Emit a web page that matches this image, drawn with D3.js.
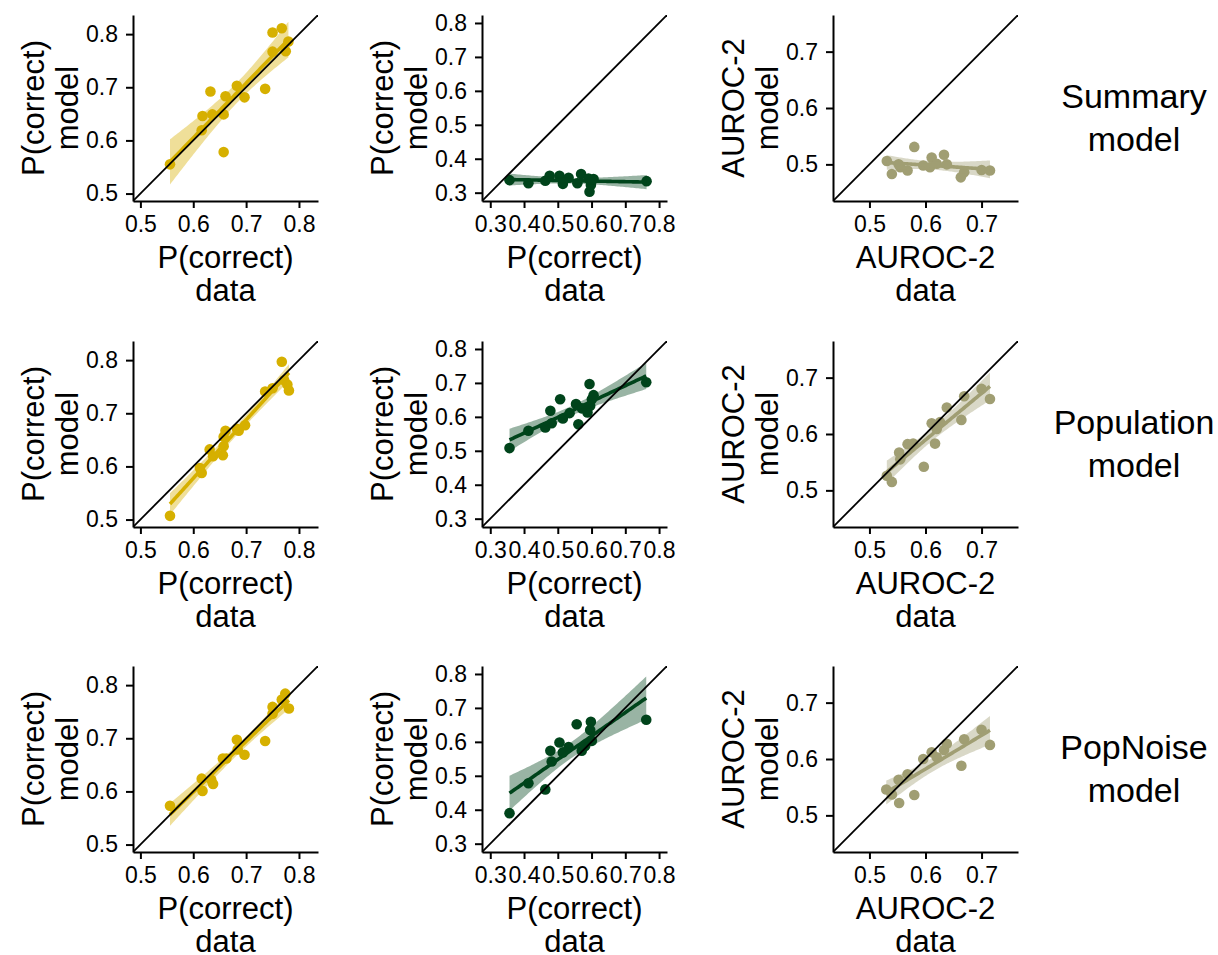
<!DOCTYPE html>
<html>
<head>
<meta charset="utf-8">
<script src="https://cdn.jsdelivr.net/npm/d3@7"></script>
<style>
  body { margin: 0; background: #fff; }
  text { font-family: "Liberation Sans", Arial, sans-serif; fill: #000; }
</style>
</head>
<body>
<div id="chart"></div>
<script>
// data: [data value, model value] per participant
const summaryP1 = [[0.556,0.555],[0.6575,0.578],[0.6175,0.646],[0.6325,0.692],[0.616,0.619],[0.636,0.649],[0.6575,0.649],[0.661,0.683],[0.6825,0.703],[0.697,0.681],[0.736,0.697],[0.75,0.803],[0.7675,0.811],[0.75,0.767],[0.775,0.768],[0.78,0.786]];
const summaryP2 = [[0.357,0.337],[0.413,0.328],[0.463,0.335],[0.476,0.350],[0.505,0.350],[0.515,0.326],[0.532,0.344],[0.558,0.328],[0.569,0.355],[0.591,0.342],[0.594,0.303],[0.598,0.323],[0.606,0.340],[0.763,0.334]];
const summaryAuroc = [[0.531,0.506],[0.540,0.483],[0.552,0.500],[0.555,0.495],[0.568,0.489],[0.580,0.531],[0.596,0.498],[0.608,0.495],[0.611,0.512],[0.620,0.501],[0.633,0.517],[0.638,0.500],[0.663,0.477],[0.669,0.486],[0.700,0.490],[0.715,0.489]];

const populationP1 = [[0.556,0.507],[0.616,0.5875],[0.6125,0.597],[0.631,0.632],[0.6375,0.619],[0.656,0.621],[0.6575,0.638],[0.6575,0.656],[0.661,0.667],[0.6825,0.671],[0.686,0.667],[0.698,0.6775],[0.736,0.741],[0.75,0.747],[0.7675,0.797],[0.772,0.762],[0.778,0.754],[0.781,0.743]];
const populationP2 = [[0.357,0.508],[0.413,0.559],[0.463,0.569],[0.478,0.618],[0.482,0.581],[0.507,0.652],[0.515,0.595],[0.535,0.611],[0.554,0.638],[0.561,0.578],[0.571,0.625],[0.588,0.613],[0.594,0.697],[0.601,0.652],[0.606,0.664],[0.596,0.633],[0.762,0.702]];
const populationAuroc = [[0.531,0.526],[0.540,0.515],[0.553,0.567],[0.555,0.555],[0.568,0.582],[0.578,0.583],[0.597,0.542],[0.611,0.619],[0.617,0.583],[0.620,0.609],[0.626,0.621],[0.638,0.647],[0.664,0.625],[0.669,0.667],[0.700,0.680],[0.715,0.662]];

const popNoiseP1 = [[0.556,0.573],[0.616,0.624],[0.6175,0.601],[0.634,0.622],[0.6375,0.614],[0.656,0.662],[0.6625,0.662],[0.6825,0.697],[0.684,0.679],[0.697,0.669],[0.736,0.695],[0.75,0.759],[0.75,0.746],[0.7675,0.773],[0.774,0.784],[0.781,0.756]];
const popNoiseP2 = [[0.357,0.390],[0.413,0.478],[0.463,0.460],[0.478,0.574],[0.482,0.542],[0.505,0.598],[0.515,0.569],[0.532,0.585],[0.556,0.652],[0.571,0.574],[0.581,0.588],[0.598,0.659],[0.596,0.635],[0.601,0.603],[0.762,0.665]];
const popNoiseAuroc = [[0.530,0.546],[0.540,0.537],[0.553,0.522],[0.552,0.563],[0.568,0.573],[0.580,0.536],[0.596,0.600],[0.611,0.612],[0.620,0.603],[0.633,0.616],[0.638,0.627],[0.664,0.588],[0.669,0.635],[0.700,0.652],[0.715,0.625]];

const rowLabels = [["Summary", "model"], ["Population", "model"], ["PopNoise", "model"]];
const colMeasures = ["P(correct)", "P(correct)", "AUROC-2"];
const colTicks = [[0.5, 0.6, 0.7, 0.8], [0.3, 0.4, 0.5, 0.6, 0.7, 0.8], [0.5, 0.6, 0.7]];
const colDomains = [[0.486, 0.836], [0.2755, 0.8235], [0.435, 0.765]];
const colColors = ["#D6B000", "#00441B", "#A09E73"];

const panelData = [
  [summaryP1, summaryP2, summaryAuroc],
  [populationP1, populationP2, populationAuroc],
  [popNoiseP1, popNoiseP2, popNoiseAuroc]
];

const width = 1218, height = 955;
const panelLeft = [133, 482, 833];
const panelTop = [15, 341, 666];
const panelW = 185, panelH = 186;

const svg = d3.select("#chart").append("svg")
  .attr("width", width)
  .attr("height", height);

svg.append("rect").attr("width", width).attr("height", height).attr("fill", "#fff");

// student t quantile (Cornish-Fisher), for the 95% band of geom_smooth(method = lm)
function tq(df) {
  const z = 1.959964;
  return z + (z ** 3 + z) / (4 * df)
    + (5 * z ** 5 + 16 * z ** 3 + 3 * z) / (96 * df ** 2)
    + (3 * z ** 7 + 19 * z ** 5 + 17 * z ** 3 - 15 * z) / (384 * df ** 3);
}

function lmFit(pts) {
  const n = pts.length;
  const mx = d3.mean(pts, d => d[0]), my = d3.mean(pts, d => d[1]);
  const sxx = d3.sum(pts, d => (d[0] - mx) ** 2);
  const sxy = d3.sum(pts, d => (d[0] - mx) * (d[1] - my));
  const b = sxy / sxx, a = my - b * mx;
  const s = Math.sqrt(d3.sum(pts, d => (d[1] - a - b * d[0]) ** 2) / (n - 2));
  const t = tq(n - 2);
  const [x0, x1] = d3.extent(pts, d => d[0]);
  const grid = d3.range(0, 81).map(i => x0 + (x1 - x0) * i / 80);
  return grid.map(x => {
    const y = a + b * x;
    const se = s * Math.sqrt(1 / n + (x - mx) ** 2 / sxx);
    return { x, y, lo: y - t * se, hi: y + t * se };
  });
}

rowLabels.forEach((lab, r) => {
  colMeasures.forEach((measure, c) => {
    const pts = panelData[r][c];
    const color = colColors[c];
    const x = d3.scaleLinear().domain(colDomains[c]).range([panelLeft[c], panelLeft[c] + panelW]);
    const y = d3.scaleLinear().domain(colDomains[c]).range([panelTop[r] + panelH, panelTop[r]]);

    const clipId = `clip-${r}-${c}`;
    svg.append("clipPath").attr("id", clipId)
      .append("rect")
      .attr("x", panelLeft[c]).attr("y", panelTop[r])
      .attr("width", panelW).attr("height", panelH);

    const g = svg.append("g").attr("clip-path", `url(#${clipId})`);

    g.selectAll(".pt")
      .data(pts)
      .enter().append("circle")
      .attr("class", "pt")
      .attr("cx", d => x(d[0]))
      .attr("cy", d => y(d[1]))
      .attr("r", 5.3)
      .attr("fill", color);

    const fit = lmFit(pts);
    g.append("path")
      .datum(fit)
      .attr("d", d3.area().x(d => x(d.x)).y0(d => y(d.lo)).y1(d => y(d.hi)))
      .attr("fill", color)
      .attr("fill-opacity", 0.4);

    g.append("path")
      .datum(fit)
      .attr("d", d3.line().x(d => x(d.x)).y(d => y(d.y)))
      .attr("fill", "none")
      .attr("stroke", color)
      .attr("stroke-width", 3.6);

    // identity line
    g.append("line")
      .attr("x1", x(colDomains[c][0])).attr("y1", y(colDomains[c][0]))
      .attr("x2", x(colDomains[c][1])).attr("y2", y(colDomains[c][1]))
      .attr("stroke", "#000")
      .attr("stroke-width", 1.8);

    const xAxis = d3.axisBottom(x).tickValues(colTicks[c]).tickFormat(d3.format(".1f"))
      .tickSize(7).tickSizeOuter(0).tickPadding(8);
    const yAxis = d3.axisLeft(y).tickValues(colTicks[c]).tickFormat(d3.format(".1f"))
      .tickSize(7).tickSizeOuter(0).tickPadding(8);

    const gx = svg.append("g")
      .attr("transform", `translate(0,${panelTop[r] + panelH})`)
      .call(xAxis);
    const gy = svg.append("g")
      .attr("transform", `translate(${panelLeft[c]},0)`)
      .call(yAxis);

    [gx, gy].forEach(ax => {
      ax.selectAll("path, line").attr("stroke", "#000").attr("stroke-width", 2);
      ax.selectAll("text")
        .style("font-family", '"Liberation Sans", Arial, sans-serif')
        .style("font-size", "23px")
        .attr("fill", "#000");
    });

    // x title
    const cx = panelLeft[c] + panelW / 2;
    const base = panelTop[r] + panelH;
    [measure, "data"].forEach((t, i) => {
      svg.append("text")
        .attr("x", cx)
        .attr("y", base + 67 + i * 33)
        .attr("text-anchor", "middle")
        .style("font-size", "31px")
        .text(t);
    });

    // y title
    const cy = panelTop[r] + panelH / 2;
    [measure, "model"].forEach((t, i) => {
      svg.append("text")
        .attr("text-anchor", "middle")
        .attr("transform", `translate(${panelLeft[c] - 89 + i * 34},${cy}) rotate(-90)`)
        .style("font-size", "31px")
        .text(t);
    });
  });

  // strip label on the right
  const cy = panelTop[r] + panelH / 2;
  lab.forEach((t, i) => {
    svg.append("text")
      .attr("x", 1134)
      .attr("y", cy + i * 43)
      .attr("text-anchor", "middle")
      .style("font-size", "34px")
      .text(t);
  });
});
</script>
</body>
</html>
